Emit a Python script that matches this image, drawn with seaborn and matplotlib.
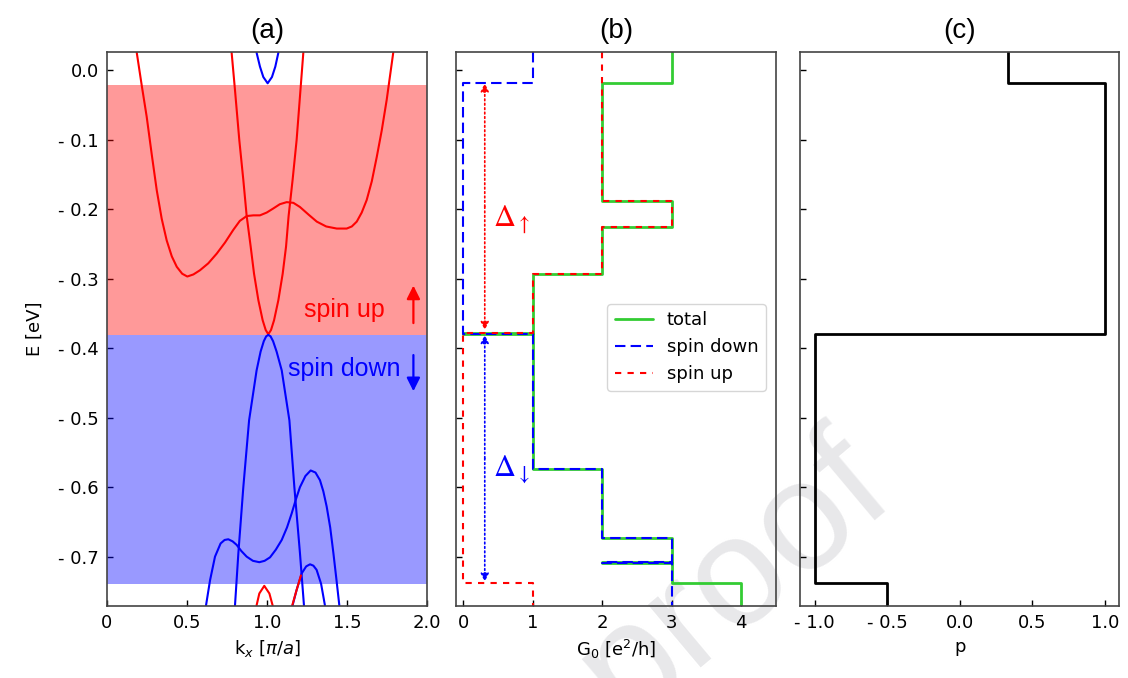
import matplotlib
matplotlib.use("Agg")
import matplotlib.pyplot as plt
import seaborn as sns

# ---- data ----
# (a) band structure, k in pi/a, E in eV
w_k = [0.186, 0.217, 0.248, 0.280, 0.311, 0.342, 0.373, 0.405, 0.436, 0.470, 0.502, 0.540,
       0.581, 0.633, 0.686, 0.738, 0.789, 0.830, 0.873, 0.915, 0.956, 0.998, 1.040, 1.080,
       1.123, 1.165, 1.206, 1.260, 1.311, 1.370, 1.436, 1.498, 1.530, 1.561, 1.592, 1.623,
       1.655, 1.686, 1.717, 1.748, 1.789]
w_E = [0.025, -0.022, -0.067, -0.122, -0.173, -0.214, -0.245, -0.268, -0.283, -0.293, -0.297, -0.294,
       -0.288, -0.278, -0.264, -0.248, -0.230, -0.217, -0.210, -0.209, -0.209, -0.205, -0.199, -0.193,
       -0.190, -0.191, -0.197, -0.208, -0.218, -0.225, -0.228, -0.228, -0.225, -0.218, -0.205, -0.187,
       -0.160, -0.125, -0.087, -0.043, 0.025]
v_k = [0.779, 0.800, 0.827, 0.852, 0.873, 0.898, 0.919, 0.946, 0.973, 0.992, 1.008,
       1.025, 1.044, 1.071, 1.098, 1.119, 1.135, 1.160, 1.185, 1.206, 1.227]
v_E = [0.025, -0.029, -0.101, -0.158, -0.210, -0.254, -0.293, -0.331, -0.360, -0.374, -0.380,
       -0.374, -0.360, -0.331, -0.293, -0.254, -0.210, -0.158, -0.101, -0.038, 0.025]
cup_k = [0.935, 0.956, 0.977, 1.004, 1.031, 1.052, 1.071]
cup_E = [0.025, 0.005, -0.010, -0.019, -0.010, 0.005, 0.025]
cap_k = [0.935, 0.952, 0.983, 1.015, 1.035]
cap_E = [-0.770, -0.753, -0.742, -0.753, -0.770]
red_tail_k = [1.158, 1.185, 1.212]
red_tail_E = [-0.770, -0.748, -0.727]

peak_k = [0.800, 0.821, 0.852, 0.888, 0.935, 0.960, 0.980, 0.995, 1.008, 1.022, 1.038, 1.060,
          1.092, 1.140, 1.171, 1.206, 1.231]
peak_E = [-0.770, -0.695, -0.600, -0.504, -0.432, -0.405, -0.390, -0.383, -0.381, -0.383, -0.390,
          -0.405, -0.432, -0.504, -0.600, -0.695, -0.770]
wave_k = [0.619, 0.644, 0.675, 0.710, 0.735, 0.758, 0.785, 0.810, 0.840, 0.873, 0.912, 0.952,
          0.985, 1.019, 1.055, 1.092, 1.125, 1.154, 1.180, 1.206, 1.240, 1.273, 1.303, 1.331,
          1.352, 1.373, 1.395, 1.415, 1.435, 1.452]
wave_E = [-0.770, -0.734, -0.700, -0.681, -0.676, -0.675, -0.678, -0.683, -0.692, -0.700, -0.706, -0.708,
          -0.706, -0.701, -0.690, -0.676, -0.658, -0.638, -0.618, -0.600, -0.584, -0.576, -0.579, -0.590,
          -0.606, -0.628, -0.658, -0.695, -0.735, -0.770]
hump_k = [1.160, 1.185, 1.217, 1.245, 1.269, 1.290, 1.310, 1.338, 1.362]
hump_E = [-0.770, -0.748, -0.724, -0.714, -0.711, -0.713, -0.719, -0.739, -0.770]

up_band = (-0.021, -0.381)
down_band = (-0.381, -0.740)

# (b) conductance steps: energy edges (top -> bottom) and G value between them
E_top, E_bot = 0.026, -0.771
tot_edges = [E_top, -0.018, -0.189, -0.226, -0.293, -0.378, -0.380, -0.574, -0.673, -0.707, -0.709, -0.738, E_bot]
tot_G = [3, 2, 3, 2, 1, 0, 1, 2, 3, 2, 3, 4]
dn_edges = [E_top, -0.018, -0.380, -0.574, -0.673, -0.707, -0.709, E_bot]
dn_G = [1, 0, 1, 2, 3, 2, 3]
up_edges = [E_top, -0.189, -0.226, -0.293, -0.378, -0.738, E_bot]
up_G = [2, 3, 2, 1, 0, 1]

# (c) polarization
p_edges = [E_top, -0.018, -0.379, -0.738, E_bot]
p_val = [0.333, 1.0, -1.0, -0.5]

E_ticks = [0.0, -0.1, -0.2, -0.3, -0.4, -0.5, -0.6, -0.7]
E_labels = ["0.0", "- 0.1", "- 0.2", "- 0.3", "- 0.4", "- 0.5", "- 0.6", "- 0.7"]
k_ticks = [0, 0.5, 1.0, 1.5, 2.0]
k_labels = ["0", "0.5", "1.0", "1.5", "2.0"]
G_ticks = [0, 1, 2, 3, 4]
p_ticks = [-1.0, -0.5, 0.0, 0.5, 1.0]
p_labels = ["- 1.0", "- 0.5", "0.0", "0.5", "1.0"]


def steps(edges, vals):
    xs, ys = [], []
    for i, v in enumerate(vals):
        xs += [v, v]
        ys += [edges[i], edges[i + 1]]
    return xs, ys


sns.set_style("white")
plt.rcParams["font.family"] = ["DejaVu Sans"]
plt.rcParams["axes.edgecolor"] = "#444444"
plt.rcParams["text.color"] = "black"
plt.rcParams["axes.labelcolor"] = "black"

fig = plt.figure(figsize=(11.28, 6.78), dpi=100)
W, H = 1128, 678
top, bot = 52, 606
axa = fig.add_axes([107 / W, 1 - bot / H, 320 / W, (bot - top) / H])
axb = fig.add_axes([456.3 / W, 1 - bot / H, 319.4 / W, (bot - top) / H])
axc = fig.add_axes([800 / W, 1 - bot / H, 319.3 / W, (bot - top) / H])

arial = "Liberation Sans"

# ---- (a) ----
axa.axhspan(up_band[1], up_band[0], color="red", alpha=0.4, lw=0)
axa.axhspan(down_band[1], down_band[0], color="blue", alpha=0.4, lw=0)
for kk, ee, c in [(w_k, w_E, "red"), (v_k, v_E, "red"), (cup_k, cup_E, "blue"),
                  (peak_k, peak_E, "blue"), (wave_k, wave_E, "blue"), (hump_k, hump_E, "blue"),
                  (cap_k, cap_E, "red"), (red_tail_k, red_tail_E, "red")]:
    sns.lineplot(x=kk, y=ee, sort=False, estimator=None, color=c, lw=1.5, ax=axa)
axa.text(1.484, -0.345, "spin up", color="red", fontsize=18, family=arial, ha="center", va="center")
axa.text(1.484, -0.430, "spin down", color="blue", fontsize=18, family=arial, ha="center", va="center")
axa.annotate("", xy=(1.915, -0.306), xytext=(1.915, -0.368),
             arrowprops=dict(arrowstyle="-|>", color="red", lw=1.6, mutation_scale=20))
axa.annotate("", xy=(1.915, -0.466), xytext=(1.915, -0.406),
             arrowprops=dict(arrowstyle="-|>", color="blue", lw=1.6, mutation_scale=20))
axa.set_xlim(0, 2.0)
axa.set_xticks(k_ticks, k_labels)
axa.set_xlabel(r"k$_x$ [$\pi/a$]", fontsize=13)
axa.set_ylabel("E [eV]", fontsize=13, labelpad=10)
axa.set_yticks(E_ticks, E_labels)
axa.set_title("(a)", fontsize=20, family=arial, pad=10)

# ---- (b) ----
gx, gy = steps(tot_edges, tot_G)
sns.lineplot(x=gx, y=gy, sort=False, estimator=None, color="#33cc33", lw=2.0, ax=axb, label="total")
gx, gy = steps(dn_edges, dn_G)
sns.lineplot(x=gx, y=gy, sort=False, estimator=None, color="blue", lw=1.5,
             linestyle=(0, (5, 2.5)), ax=axb, label="spin down")
gx, gy = steps(up_edges, up_G)
sns.lineplot(x=gx, y=gy, sort=False, estimator=None, color="red", lw=1.5,
             linestyle=(0, (3, 3)), ax=axb, label="spin up")
mid_up = (-0.019 - 0.374) / 2
mid_dn = (-0.381 - 0.736) / 2
for y0, y1, c in [(mid_up, -0.019, "red"), (mid_up, -0.374, "red"),
                  (mid_dn, -0.381, "blue"), (mid_dn, -0.736, "blue")]:
    axb.annotate("", xy=(0.31, y1), xytext=(0.31, y0),
                 arrowprops=dict(arrowstyle="-|>", color=c, lw=1.2, ls=":", mutation_scale=12,
                                 shrinkA=0, shrinkB=0))
axb.text(0.70, -0.216, r"$\Delta_{\uparrow}$", color="red", fontsize=22, ha="center", va="center",
         math_fontfamily="stix")
axb.text(0.70, -0.576, r"$\Delta_{\downarrow}$", color="blue", fontsize=22, ha="center", va="center",
         math_fontfamily="stix")
leg = axb.legend(loc="upper right", bbox_to_anchor=(0.969, 0.545), borderaxespad=0, fontsize=13,
                 frameon=True, handlelength=2.1)
leg.get_frame().set_edgecolor("#cccccc")
axb.set_xlim(-0.1, 4.5)
axb.set_xticks(G_ticks)
axb.set_xlabel(r"G$_0$ [e$^2$/h]", fontsize=13)
axb.set_yticks(E_ticks, [])
axb.set_title("(b)", fontsize=20, family=arial, pad=10)

# ---- (c) ----
px, py = steps(p_edges, p_val)
sns.lineplot(x=px, y=py, sort=False, estimator=None, color="black", lw=2.0, ax=axc)
axc.set_xlim(-1.1, 1.1)
axc.set_xticks(p_ticks, p_labels)
axc.set_xlabel("p", fontsize=13)
axc.set_yticks(E_ticks, [])
axc.set_title("(c)", fontsize=20, family=arial, pad=10)

for ax in (axa, axb, axc):
    ax.set_ylim(E_bot, E_top)
    ax.tick_params(direction="in", length=4, width=1, labelsize=13, pad=6,
                   bottom=True, left=True, top=False, right=False, colors="black")
    ax.patch.set_alpha(0)
    for s in ax.spines.values():
        s.set_linewidth(1.2)

# faint watermark from the source page
fig.text(735 / W, 1 - 578 / H, "proof", rotation=40, fontsize=112, family=arial, color="#e8e8ea",
         ha="center", va="center", zorder=-1)

fig.savefig("out.png", dpi=100)
